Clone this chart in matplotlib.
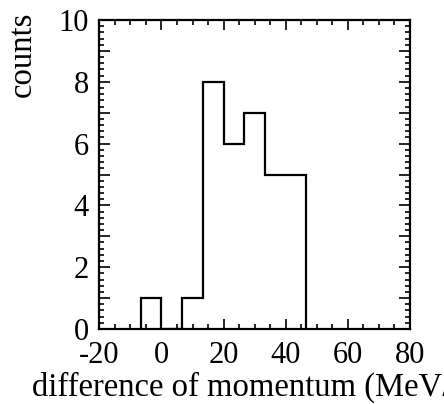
import numpy as np
import matplotlib
matplotlib.use("Agg")
import matplotlib.pyplot as plt
from matplotlib.ticker import MultipleLocator, FuncFormatter

# histogram of the momentum difference, bin width 20/3 MeV/c
bin_edges = [-20 / 3, 0, 20 / 3, 40 / 3, 20, 80 / 3, 100 / 3, 40, 140 / 3]
counts = [1, 0, 1, 8, 6, 7, 5, 5]

x_range = (-20, 80)
y_range = (0, 10)

plt.rcParams['font.family'] = ['Liberation Serif', 'DejaVu Serif']

fig = plt.figure(figsize=(4.44, 4.04), dpi=100)
ax = fig.add_axes([0.2237, 0.1856, 0.6997, 0.7649])

ax.stairs(counts, bin_edges, color='black', linewidth=1.6)

ax.set_xlim(*x_range)
ax.set_ylim(*y_range)

ax.xaxis.set_major_locator(MultipleLocator(20))
ax.xaxis.set_minor_locator(MultipleLocator(5))
ax.yaxis.set_major_locator(MultipleLocator(1))
ax.yaxis.set_minor_locator(MultipleLocator(0.2))
ax.yaxis.set_major_formatter(FuncFormatter(lambda v, p: f"{int(v)}" if int(round(v)) % 2 == 0 else ""))
ax.xaxis.set_major_formatter(FuncFormatter(lambda v, p: f"{int(v)}"))

ax.tick_params(axis='both', which='both', direction='in', top=True, right=True,
               width=1.2, labelsize=22, colors='black')
ax.tick_params(axis='x', which='major', length=7, pad=8.5)
ax.tick_params(axis='x', which='minor', length=3.5)
ax.tick_params(axis='y', which='major', length=8, pad=7.5)
ax.tick_params(axis='y', which='minor', length=3.6)

for s in ax.spines.values():
    s.set_linewidth(1.6)

ax.set_xlabel("difference of momentum (MeV/c)", fontsize=23.5)
ax.xaxis.set_label_coords(0.5, -0.137)
ax.set_ylabel("counts", fontsize=23.5, loc='top')
ax.yaxis.set_label_coords(-0.198, 1.026)

fig.savefig("out.png", dpi=100)
